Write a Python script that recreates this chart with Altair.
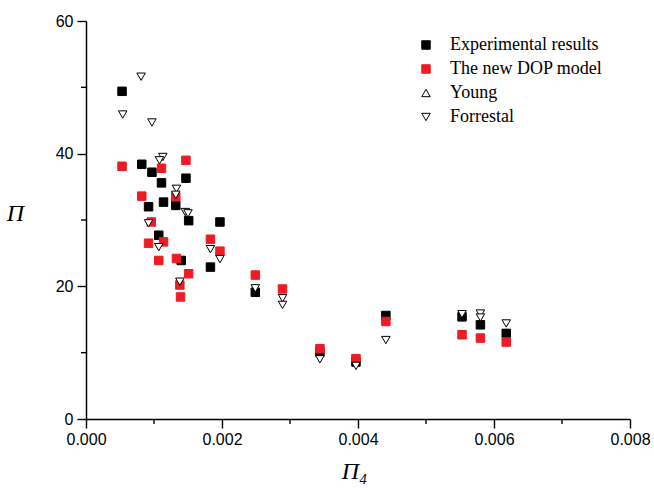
import altair as alt
import pandas as pd

# ---- data ----
series_names = ["Experimental results", "The new DOP model", "Young", "Forrestal"]

exp_x = [0.00053, 0.00082, 0.00097, 0.00147, 0.00111, 0.00092, 0.00114, 0.00132, 0.00151, 0.00197,
         0.00107, 0.00140, 0.00183, 0.00249, 0.00344, 0.00397, 0.00441, 0.00553, 0.00580, 0.00618]
exp_y = [49.4, 38.4, 37.2, 36.3, 35.6, 32.0, 32.7, 32.2, 29.9, 29.7,
         27.7, 23.9, 22.9, 19.1, 10.1, 8.6, 15.6, 15.4, 14.2, 12.9]

dop_x = [0.00053, 0.00111, 0.00147, 0.00082, 0.00132, 0.00096, 0.00183, 0.00092, 0.00114, 0.00197,
         0.00107, 0.00133, 0.00151, 0.00138, 0.00139, 0.00249, 0.00289, 0.00344, 0.00397, 0.00441,
         0.00553, 0.00580, 0.00618]
dop_y = [38.1, 37.8, 39.0, 33.6, 33.5, 29.7, 27.1, 26.5, 26.7, 25.3,
         23.9, 24.2, 21.9, 20.2, 18.4, 21.7, 19.6, 10.6, 9.1, 14.7,
         12.7, 12.2, 11.6]

young_x = []
young_y = []

forr_x = [0.00081, 0.00054, 0.00097, 0.00113, 0.00108, 0.00133, 0.00132, 0.00146, 0.00150, 0.00092,
          0.00107, 0.00138, 0.00183, 0.00197, 0.00249, 0.00289, 0.00289, 0.00344, 0.00397, 0.00441,
          0.00553, 0.00580, 0.00580, 0.00618]
forr_y = [51.6, 45.9, 44.7, 39.5, 39.0, 34.7, 33.8, 31.2, 31.0, 29.5,
          25.9, 20.7, 25.6, 24.1, 19.7, 18.2, 17.2, 9.0, 8.0, 11.9,
          15.8, 15.9, 15.3, 14.4]

x_major = [0.0, 0.002, 0.004, 0.006, 0.008]
x_minor = [0.001, 0.003, 0.005, 0.007]
y_major = [0, 20, 40, 60]
y_minor = [10, 30, 50]

# ---- styles ----
shapes = ["square", "square", "triangle-up", "triangle-down"]
fills = ["#000000", "#ed1c24", "#ffffff", "#ffffff"]
strokes = ["#000000", "#ed1c24", "#000000", "#000000"]
sizes = [72, 72, 155, 155]

rows = []
for xs, ys, name in [(exp_x, exp_y, series_names[0]), (dop_x, dop_y, series_names[1]),
                     (young_x, young_y, series_names[2]), (forr_x, forr_y, series_names[3])]:
    for a, b in zip(xs, ys):
        rows.append({"x": a, "y": b, "series": name})
df = pd.DataFrame(rows)

W, H = 544, 398

legend = alt.Legend(title=None, orient="none", legendX=331, legendY=15,
                    labelFont="Liberation Serif", labelFontSize=18, labelColor="black",
                    rowPadding=6, labelOffset=15, padding=0, symbolStrokeWidth=1)

xscale = alt.Scale(domain=[0, 0.008], nice=False, zero=False)
yscale = alt.Scale(domain=[0, 60], nice=False, zero=False)

xaxis = alt.Axis(values=x_major, format=".3f", title="Π₄", grid=False,
                 tickSize=9, tickWidth=1.4, tickColor="black",
                 domainColor="black", domainWidth=1.5,
                 labelFont="Liberation Sans", labelFontSize=16, labelColor="black",
                 labelPadding=3, labelFlush=False,
                 titleFont="Liberation Serif", titleFontStyle="italic",
                 titleFontWeight="normal", titleFontSize=24, titleColor="black",
                 titleX=268, titleY=52, titleAlign="center", titleBaseline="middle")
yaxis = alt.Axis(values=y_major, title="Π", grid=False,
                 tickSize=9, tickWidth=1.4, tickColor="black",
                 domainColor="black", domainWidth=1.5,
                 labelFont="Liberation Sans", labelFontSize=16, labelColor="black",
                 labelPadding=4, labelFlush=False,
                 titleFont="Liberation Serif", titleFontStyle="italic",
                 titleFontWeight="normal", titleFontSize=24, titleColor="black",
                 titleAngle=0, titleX=-71, titleY=192, titleAlign="center",
                 titleBaseline="middle")

points = alt.Chart(df).mark_point(filled=True, opacity=1, strokeWidth=1).encode(
    x=alt.X("x:Q", scale=xscale, axis=xaxis),
    y=alt.Y("y:Q", scale=yscale, axis=yaxis),
    shape=alt.Shape("series:N", scale=alt.Scale(domain=series_names, range=shapes), legend=legend),
    fill=alt.Fill("series:N", scale=alt.Scale(domain=series_names, range=fills), legend=legend),
    stroke=alt.Stroke("series:N", scale=alt.Scale(domain=series_names, range=strokes), legend=legend),
    size=alt.Size("series:N", scale=alt.Scale(domain=series_names, range=sizes), legend=legend),
)

ymin = alt.Chart(pd.DataFrame({"v": y_minor})).mark_rule(color="black", strokeWidth=1.4).encode(
    y=alt.Y("v:Q", scale=yscale, axis=yaxis),
    x=alt.value(0), x2=alt.value(-5),
)
xmin = alt.Chart(pd.DataFrame({"u": x_minor})).mark_rule(color="black", strokeWidth=1.4).encode(
    x=alt.X("u:Q", scale=xscale, axis=xaxis),
    y=alt.value(H), y2=alt.value(H + 5),
)

chart = alt.layer(points, ymin, xmin).properties(
    width=W, height=H,
    autosize=alt.AutoSizeParams(type="none"),
    padding={"left": 86, "top": 21, "right": 24, "bottom": 70},
    background="white",
).configure_view(stroke=None)

chart.save("out.html", embed_options={"renderer": "svg", "actions": False})
